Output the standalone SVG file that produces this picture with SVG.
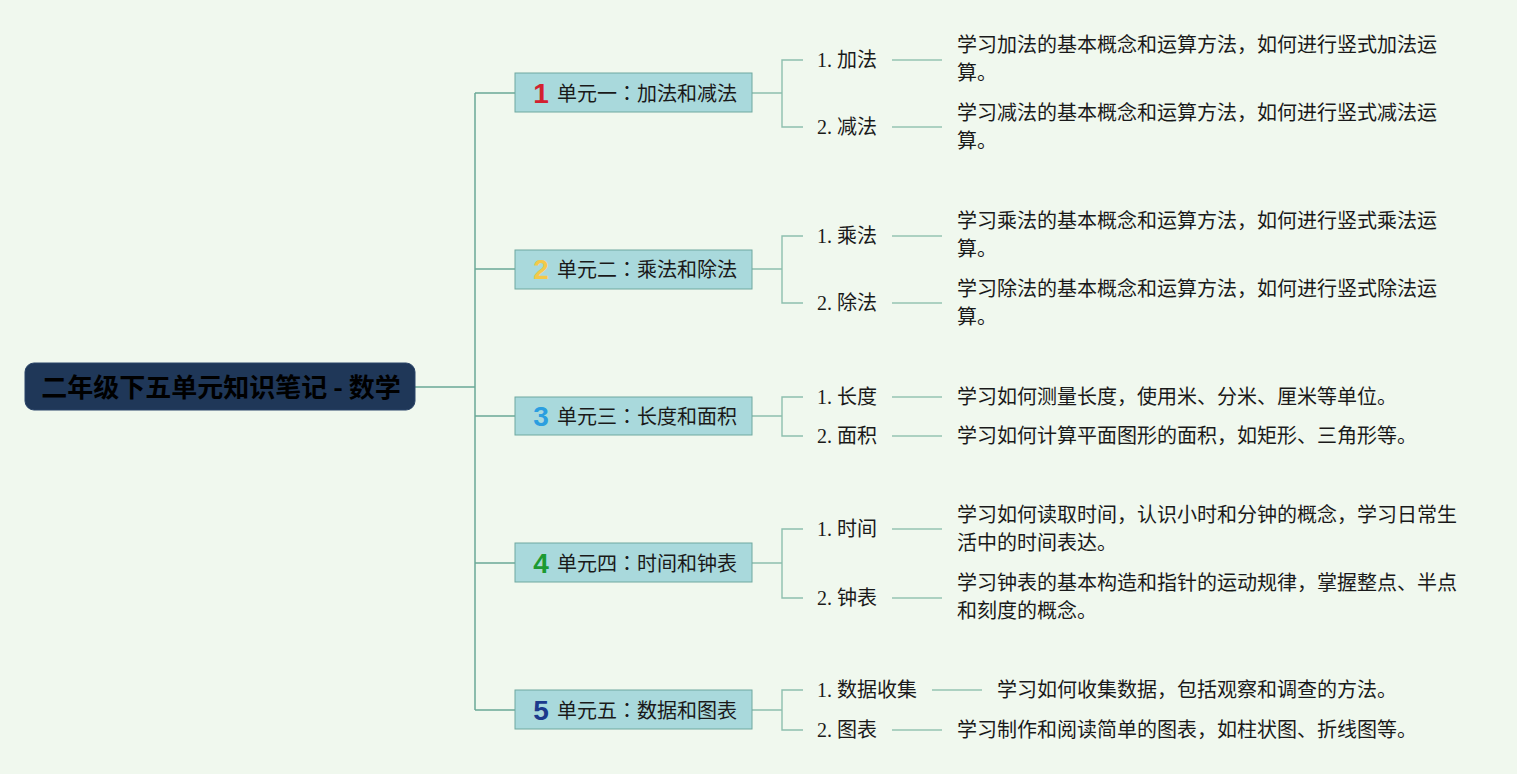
<svg xmlns="http://www.w3.org/2000/svg" width="1517" height="774" viewBox="0 0 1517 774">
<style>
.bg{fill:#f0f8ee}
.root{fill:#1f3758;stroke:#2a4468;stroke-width:1}
.rt{font-family:"Noto Sans CJK SC","Liberation Sans",sans-serif;font-size:26px;font-weight:bold;fill:#000}
.unit{fill:#a9d9dc;stroke:#6fa89f;stroke-width:1}
.ut{font-family:"Noto Sans CJK JP","Noto Sans CJK SC",sans-serif;font-size:20px;fill:#1a1a1a}
.num{font-family:"Liberation Sans","DejaVu Sans",sans-serif;font-size:28px;font-weight:bold}
.ct{font-family:"Liberation Serif","Noto Sans CJK SC",serif;font-size:20px;fill:#1a1a1a}
.dt{font-family:"Noto Sans CJK SC","Liberation Sans",sans-serif;font-size:20px;fill:#1a1a1a}
.c1{fill:none;stroke:#6aa896;stroke-width:1.5}
.c2{fill:none;stroke:#8dbfae;stroke-width:1.4}
.c3{fill:none;stroke:#95c4b3;stroke-width:1.3}
</style>
<rect class="bg" x="0" y="0" width="1517" height="774"/>
<g id="connectors">
<path class="c1" d="M415,387 H475 M475,93 V710 M475,93 H515 M475,269 H515 M475,416 H515 M475,563 H515 M475,710 H515"/>
<path class="c2" d="M752,93 H782 M803,60 H782 V127 H803"/>
<path class="c2" d="M752,269 H782 M803,236 H782 V303 H803"/>
<path class="c2" d="M752,416 H782 M803,397 H782 V436 H803"/>
<path class="c2" d="M752,563 H782 M803,529 H782 V598 H803"/>
<path class="c2" d="M752,710 H782 M803,690 H782 V730 H803"/>
<path class="c3" d="M892,60 H942 M892,127 H942 M892,236 H942 M892,303 H942 M892,397 H942 M892,436 H942 M892,529 H942 M892,598 H942 M932,690 H982 M892,730 H942"/>
</g>
<g id="root">
<rect class="root" x="25" y="363" width="390" height="47" rx="9"/>
<text class="rt" x="221" y="397" text-anchor="middle">二年级下五单元知识笔记 - 数学</text>
</g>
<g id="unit1">
<rect class="unit" x="515" y="73" width="237" height="39"/>
<text class="num" x="541" y="103" text-anchor="middle" fill="#d3202f">1</text>
<text class="ut" x="557" y="101">单元一：加法和减法</text>
</g>
<g id="unit2">
<rect class="unit" x="515" y="250" width="237" height="39"/>
<text class="num" x="541" y="279" text-anchor="middle" fill="#f3c94a">2</text>
<text class="ut" x="557" y="277">单元二：乘法和除法</text>
</g>
<g id="unit3">
<rect class="unit" x="515" y="397" width="237" height="38"/>
<text class="num" x="541" y="426" text-anchor="middle" fill="#2b9ee0">3</text>
<text class="ut" x="557" y="424">单元三：长度和面积</text>
</g>
<g id="unit4">
<rect class="unit" x="515" y="543" width="237" height="39"/>
<text class="num" x="541" y="573" text-anchor="middle" fill="#1c9a32">4</text>
<text class="ut" x="557" y="571">单元四：时间和钟表</text>
</g>
<g id="unit5">
<rect class="unit" x="515" y="690" width="237" height="39"/>
<text class="num" x="541" y="720" text-anchor="middle" fill="#1b3a8c">5</text>
<text class="ut" x="557" y="718">单元五：数据和图表</text>
</g>
<g id="u1c1"><text class="ct" x="817" y="67">1. 加法</text></g>
<g id="u1c1d"><text class="dt" x="957" y="52">学习加法的基本概念和运算方法，如何进行竖式加法运</text><text class="dt" x="957" y="80">算。</text></g>
<g id="u1c2"><text class="ct" x="817" y="134">2. 减法</text></g>
<g id="u1c2d"><text class="dt" x="957" y="120">学习减法的基本概念和运算方法，如何进行竖式减法运</text><text class="dt" x="957" y="148">算。</text></g>
<g id="u2c1"><text class="ct" x="817" y="243">1. 乘法</text></g>
<g id="u2c1d"><text class="dt" x="957" y="228">学习乘法的基本概念和运算方法，如何进行竖式乘法运</text><text class="dt" x="957" y="256">算。</text></g>
<g id="u2c2"><text class="ct" x="817" y="310">2. 除法</text></g>
<g id="u2c2d"><text class="dt" x="957" y="296">学习除法的基本概念和运算方法，如何进行竖式除法运</text><text class="dt" x="957" y="324">算。</text></g>
<g id="u3c1"><text class="ct" x="817" y="404">1. 长度</text></g>
<g id="u3c1d"><text class="dt" x="957" y="404">学习如何测量长度，使用米、分米、厘米等单位。</text></g>
<g id="u3c2"><text class="ct" x="817" y="443">2. 面积</text></g>
<g id="u3c2d"><text class="dt" x="957" y="443">学习如何计算平面图形的面积，如矩形、三角形等。</text></g>
<g id="u4c1"><text class="ct" x="817" y="536">1. 时间</text></g>
<g id="u4c1d"><text class="dt" x="957" y="522">学习如何读取时间，认识小时和分钟的概念，学习日常生</text><text class="dt" x="957" y="550">活中的时间表达。</text></g>
<g id="u4c2"><text class="ct" x="817" y="605">2. 钟表</text></g>
<g id="u4c2d"><text class="dt" x="957" y="590">学习钟表的基本构造和指针的运动规律，掌握整点、半点</text><text class="dt" x="957" y="618">和刻度的概念。</text></g>
<g id="u5c1"><text class="ct" x="817" y="697">1. 数据收集</text></g>
<g id="u5c1d"><text class="dt" x="997" y="697">学习如何收集数据，包括观察和调查的方法。</text></g>
<g id="u5c2"><text class="ct" x="817" y="737">2. 图表</text></g>
<g id="u5c2d"><text class="dt" x="957" y="737">学习制作和阅读简单的图表，如柱状图、折线图等。</text></g>
</svg>
